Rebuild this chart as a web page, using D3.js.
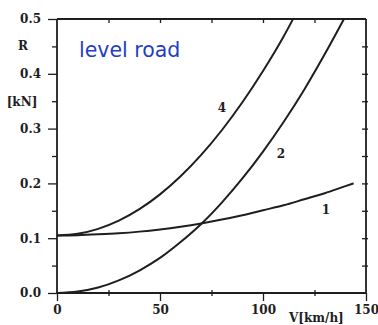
<!DOCTYPE html>
<html><head><meta charset="utf-8">
<script src="https://cdn.jsdelivr.net/npm/d3@7"></script>
<style>
html,body{margin:0;padding:0;background:#fff;}
svg{display:block;}
</style>
</head><body>
<script>
// Speeds (km/h) sampled along the curves
const speeds1 = [0,10,20,30,40,50,60,70,80,90,100,110,120,130,140,144];
const curve1 = [0.105,0.1055,0.107,0.109,0.112,0.116,0.121,0.127,0.134,0.142,0.151,0.160,0.171,0.182,0.195,0.200];
const speeds2 = [0,10,20,30,40,50,60,70,80,90,100,110,120,130,139.3];
const curve2 = [0,0.0026,0.010,0.023,0.041,0.064,0.093,0.126,0.165,0.209,0.258,0.312,0.371,0.436,0.500];
const speeds4 = [0,10,20,30,40,50,60,70,80,90,100,110,114.6];
const curve4 = [0.105,0.108,0.117,0.132,0.153,0.180,0.213,0.252,0.297,0.348,0.405,0.468,0.500];
const curveNames = ["1","2","4"];
const xTicks = [0,50,100,150];
const xMinorTicks = [25,75,125];
const yTicks = [0,0.1,0.2,0.3,0.4,0.5];
const yMinorTicks = [0.05,0.15,0.25,0.35,0.45];
const yTickLabels = ["0.0","0.1","0.2","0.3","0.4","0.5"];
const xTickLabels = ["0","50","100","150"];

const W = 378, H = 325;
const svg = d3.select("body").append("svg").attr("width", W).attr("height", H);
const x = d3.scaleLinear().domain([0,150]).range([57,366]);
const y = d3.scaleLinear().domain([0,0.5]).range([293,19]);
const ink = "#1e1e1e";
const serif = "'DejaVu Serif', serif";

// Frame lines
const frame = svg.append("g").attr("stroke", ink).attr("stroke-width", 1.8).attr("fill","none");
frame.append("line").attr("x1", x(0)).attr("x2", x(150)).attr("y1", y(0.5)).attr("y2", y(0.5));
frame.append("line").attr("x1", x(0)).attr("x2", x(150)).attr("y1", y(0)).attr("y2", y(0));
frame.append("line").attr("x1", x(0)).attr("x2", x(0)).attr("y1", y(0.5)).attr("y2", y(0));
frame.append("line").attr("x1", x(150)).attr("x2", x(150)).attr("y1", y(0.5)).attr("y2", y(0));

function styleAxis(g){
  g.select(".domain").remove();
  g.selectAll(".tick line").attr("stroke", ink).attr("stroke-width", 1.3);
  g.selectAll("text").attr("font-family", serif).attr("font-weight","bold").attr("font-size", 12).attr("fill", ink);
}

// Left axis: major ticks outward with labels
svg.append("g").attr("transform", `translate(${x(0)},0)`)
  .call(d3.axisLeft(y).tickValues(yTicks).tickSize(9).tickPadding(7).tickFormat((d,i)=>yTickLabels[i]))
  .call(styleAxis);
svg.append("g").attr("transform", `translate(${x(0)},0)`)
  .call(d3.axisLeft(y).tickValues(yMinorTicks).tickSize(5).tickFormat(""))
  .call(styleAxis);
// Right axis: inward ticks
svg.append("g").attr("transform", `translate(${x(150)},0)`)
  .call(d3.axisLeft(y).tickValues(yMinorTicks.concat(yTicks.slice(1,5))).tickSize(-4).tickFormat(""))
  .call(g=>{styleAxis(g); g.selectAll(".tick line").attr("x1",-4).attr("x2",2);});
// Bottom axis
svg.append("g").attr("transform", `translate(0,${y(0)})`)
  .call(d3.axisBottom(x).tickValues(xTicks).tickSize(8).tickPadding(4).tickFormat((d,i)=>xTickLabels[i]))
  .call(styleAxis);
svg.append("g").attr("transform", `translate(0,${y(0)})`)
  .call(d3.axisBottom(x).tickValues(xMinorTicks).tickSize(3).tickFormat(""))
  .call(g=>{styleAxis(g); g.selectAll(".tick line").attr("y1",-3).attr("y2",3);});
// Top axis: inward ticks
svg.append("g").attr("transform", `translate(0,${y(0.5)})`)
  .call(d3.axisTop(x).tickValues(xMinorTicks.concat([50,100])).tickSize(-4).tickFormat(""))
  .call(g=>{styleAxis(g); g.selectAll(".tick line").attr("y1",-1).attr("y2",4);});

// Axis titles
const lab = (t, px, py, anchor) => svg.append("text").attr("x", px).attr("y", py)
  .attr("text-anchor", anchor||"middle").attr("dominant-baseline","central")
  .attr("font-family", serif).attr("font-weight","bold").attr("font-size", 12).attr("fill", ink).text(t);
lab("R", 23, 46);
lab("[kN]", 22, 102);
lab("V[km/h]", 289, 318, "start");

// Curves
const line = d3.line().x(d=>x(d[0])).y(d=>y(d[1])).curve(d3.curveMonotoneX);
const series = [
  {name: curveNames[0], v: speeds1, r: curve1, lx: 326, ly: 210},
  {name: curveNames[1], v: speeds2, r: curve2, lx: 281, ly: 154},
  {name: curveNames[2], v: speeds4, r: curve4, lx: 222, ly: 108}
];
series.forEach(s=>{
  svg.append("path").datum(s.v.map((v,i)=>[v, s.r[i]]))
    .attr("d", line).attr("fill","none").attr("stroke", ink).attr("stroke-width", 2);
  lab(s.name, s.lx, s.ly);
});

// Annotation
svg.append("text").attr("x", 79).attr("y", 57)
  .attr("font-family","'DejaVu Sans', sans-serif").attr("font-size", 20.5)
  .attr("fill","#1f3fbf").text("level road");
</script>
</body></html>
